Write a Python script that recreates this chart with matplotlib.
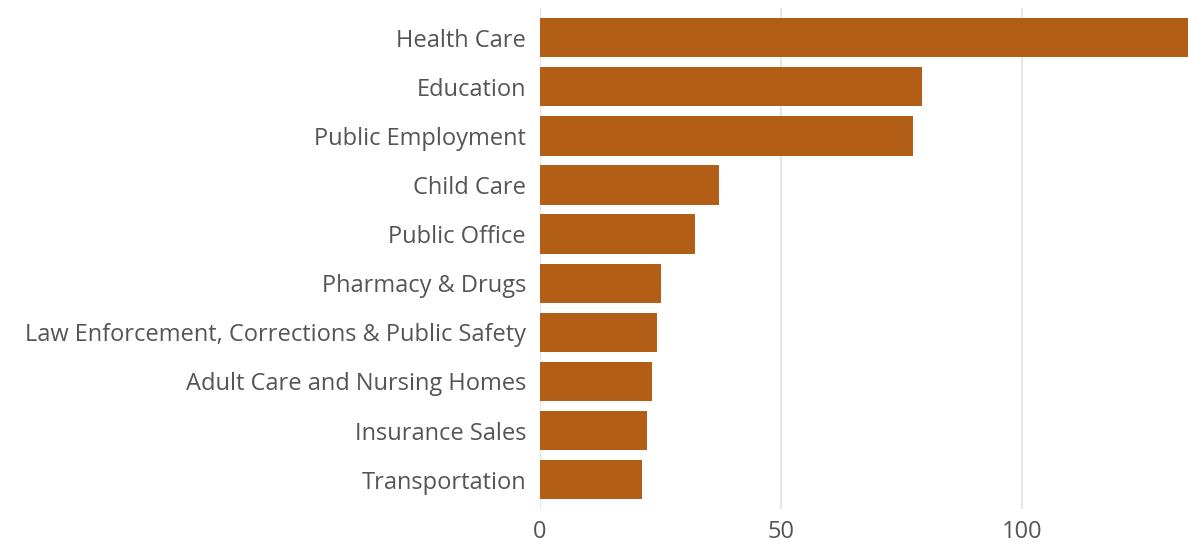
import matplotlib
matplotlib.use('Agg')
from matplotlib import pyplot as plt


CATEGORIES = ['Health Care', 'Education', 'Public Employment', 'Child Care', 'Public Office',
              'Pharmacy & Drugs', 'Law Enforcement, Corrections & Public Safety',
              'Adult Care and Nursing Homes', 'Insurance Sales', 'Transportation']
VALUES = [136, 79.3, 77.4, 37.1, 32.2, 25.1, 24.3, 23.2, 22.2, 21.2]
X_TICKS = [0, 50, 100]

BAR_COLOR = '#B35E16'
TEXT_COLOR = '#555555'


def main():
    plt.rcParams['font.family'] = ['Open Sans', 'DejaVu Sans']
    fig = plt.figure(figsize=(11.88, 5.44), dpi=100)
    ax = fig.add_axes([0.4545, 0.064, 0.5455, 0.921])

    y = list(range(len(CATEGORIES)))
    ax.barh(y, VALUES, height=0.8, color=BAR_COLOR, zorder=2)

    ax.set_xlim(0, 134.5)
    ax.set_ylim(len(CATEGORIES) - 0.4, -0.6)
    ax.set_yticks(y)
    ax.set_yticklabels(CATEGORIES)
    ax.set_xticks(X_TICKS)
    ax.set_xticklabels([str(t) for t in X_TICKS])

    ax.grid(axis='x', color='#e6e6e6', linewidth=1.5, zorder=0)
    for s in ax.spines.values():
        s.set_visible(False)
    ax.tick_params(axis='both', length=0, labelsize=17, colors=TEXT_COLOR)
    ax.tick_params(axis='y', pad=10)
    ax.tick_params(axis='x', pad=8)

    fig.savefig('out.png', dpi=100)
    plt.close(fig)


if __name__ == '__main__':
    main()
